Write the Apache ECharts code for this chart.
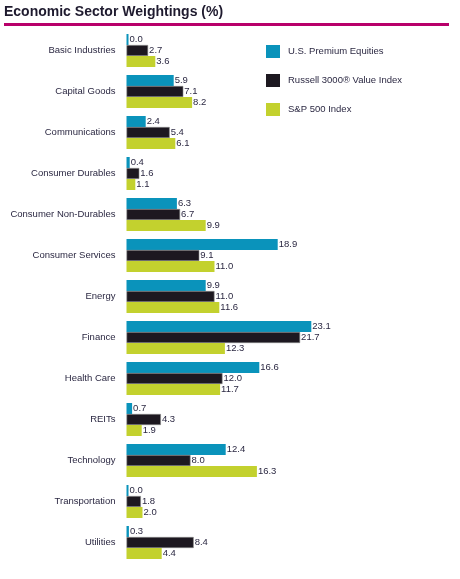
<!DOCTYPE html>
<html>
<head>
<meta charset="utf-8">
<script src="https://cdn.jsdelivr.net/npm/echarts@6/dist/echarts.min.js"></script>
<style>
  html, body { margin: 0; padding: 0; background: #ffffff; }
  #chart { width: 460px; height: 579px; }
</style>
</head>
<body>
<div id="chart"></div>
<script>
// 数据
const sectors = ['Basic Industries', 'Capital Goods', 'Communications', 'Consumer Durables',
  'Consumer Non-Durables', 'Consumer Services', 'Energy', 'Finance', 'Health Care',
  'REITs', 'Technology', 'Transportation', 'Utilities'];
const premium = [0.0, 5.9, 2.4, 0.4, 6.3, 18.9, 9.9, 23.1, 16.6, 0.7, 12.4, 0.0, 0.3];
const russell = [2.7, 7.1, 5.4, 1.6, 6.7, 9.1, 11.0, 21.7, 12.0, 4.3, 8.0, 1.8, 8.4];
const sp500 = [3.6, 8.2, 6.1, 1.1, 9.9, 11.0, 11.6, 12.3, 11.7, 1.9, 16.3, 2.0, 4.4];
const seriesNames = ['U.S. Premium Equities', 'Russell 3000\u00AE Value Index', 'S&P 500 Index'];

const font = '"Liberation Sans Narrow", "Liberation Sans", sans-serif';
const textColor = '#2b2842';

const chart = echarts.init(document.getElementById('chart'));

function bar(name, data, color, extra) {
    return Object.assign({
        name: name,
        type: 'bar',
        data: data,
        barWidth: 11,
        barGap: '0%',
        itemStyle: { color: color },
        label: {
            show: true,
            position: 'right',
            distance: 1,
            color: textColor,
            fontFamily: font,
            fontSize: 9.5,
            formatter: p => p.value.toFixed(1)
        },
        animation: false
    }, extra || {});
}

chart.setOption({
    title: {
        text: 'Economic Sector Weightings (%)',
        left: 4,
        top: 5,
        padding: 0,
        textStyle: { fontFamily: font, fontSize: 14, fontWeight: 'bold', color: '#1e1a2e' }
    },
    graphic: [{
        type: 'line',
        shape: { x1: 4, y1: 24.5, x2: 449, y2: 24.5 },
        style: { stroke: '#b8006a', lineWidth: 3 }
    }],
    legend: {
        orient: 'vertical',
        left: 261,
        top: 40,
        itemWidth: 14,
        itemHeight: 13,
        itemGap: 16,
        icon: 'rect',
        itemStyle: { borderWidth: 0 },
        textStyle: { fontFamily: font, fontSize: 9.5, color: textColor, padding: [0, 0, 0, 3] },
        data: seriesNames
    },
    grid: { left: 126.5, right: 93.5, top: 30, bottom: 16, containLabel: false },
    xAxis: { type: 'value', min: 0, max: 30, show: false },
    yAxis: {
        type: 'category',
        data: sectors,
        inverse: true,
        axisLine: { show: false },
        axisTick: { show: false },
        axisLabel: { margin: 11, color: textColor, fontFamily: font, fontSize: 9.5 }
    },
    series: [
        bar(seriesNames[0], premium, '#0a93bb', { barMinHeight: 2 }),
        bar(seriesNames[1], russell, '#1d1820', { itemStyle: { color: '#1d1820', borderColor: '#8a8a8a', borderWidth: 0.6 } }),
        bar(seriesNames[2], sp500, '#c3d12e')
    ]
});
</script>
</body>
</html>
